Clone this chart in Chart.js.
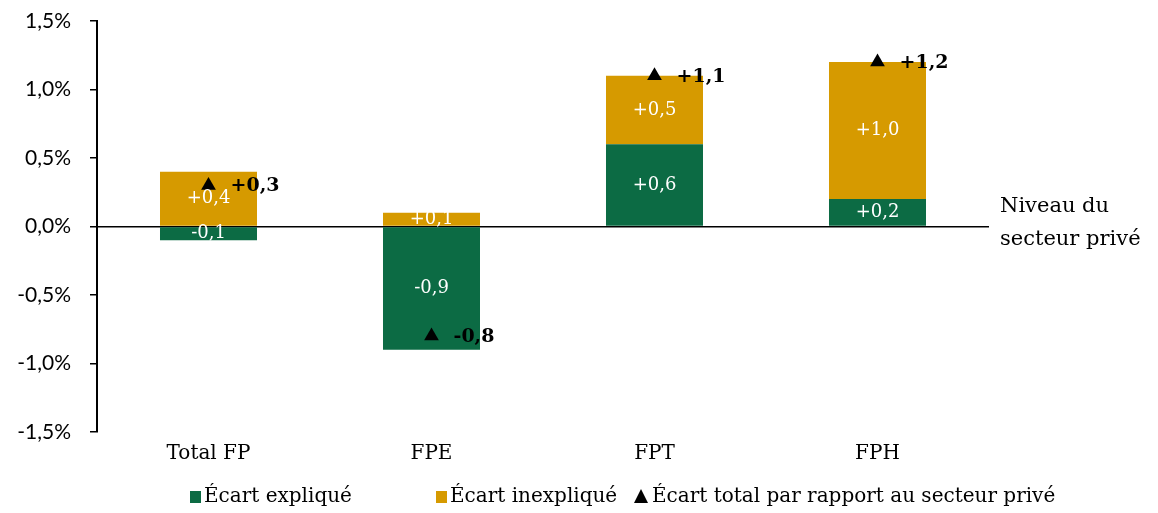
<!DOCTYPE html>
<html>
<head>
<meta charset="utf-8">
<script src="https://cdn.jsdelivr.net/npm/chart.js@4"></script>
<style>
  html, body { margin: 0; padding: 0; background: #fff; }
  #wrap { width: 1158px; height: 513px; }
</style>
</head>
<body>
<div id="wrap"><canvas id="graphique" width="1158" height="513"></canvas></div>
<script>
// Données (en points de %)
var categories = ['Total FP', 'FPE', 'FPT', 'FPH'];
var ecartExplique = [-0.1, -0.9, 0.6, 0.2];
var ecartInexplique = [0.4, 0.1, 0.5, 1.0];
var ecartTotal = [0.3, -0.8, 1.1, 1.2];
var yTicks = [-1.5, -1.0, -0.5, 0, 0.5, 1.0, 1.5];
var legende = ['Écart expliqué', 'Écart inexpliqué', 'Écart total par rapport au secteur privé'];

var VERT = '#0c6b44';
var OR = '#d69a00';
var SERIF = '"DejaVu Serif", serif';

function fmt(v) {
    var s = Math.abs(v).toFixed(1).replace('.', ',');
    return (v < 0 ? '-' : '+') + s;
}

// Etiquettes, texte "Niveau du secteur privé" et légende
var etiquettes = {
    id: 'etiquettes',
    afterDatasetsDraw: function(chart) {
        var ctx = chart.ctx;
        var y = chart.scales.y;
        ctx.save();
        ctx.textBaseline = 'middle';
        // valeurs dans les barres
        [0, 1].forEach(function(d) {
            var meta = chart.getDatasetMeta(d);
            meta.data.forEach(function(bar, i) {
                var v = chart.data.datasets[d].data[i];
                var props = bar.getProps(['x', 'y', 'base'], true);
                ctx.fillStyle = '#fff';
                ctx.font = '18px ' + SERIF;
                ctx.textAlign = 'center';
                ctx.fillText(fmt(v), props.x, (props.y + props.base) / 2);
            });
        });
        // valeurs des triangles
        var metaT = chart.getDatasetMeta(2);
        metaT.data.forEach(function(pt, i) {
            ctx.fillStyle = '#000';
            ctx.font = 'bold 19px ' + SERIF;
            ctx.textAlign = 'left';
            ctx.fillText(fmt(ecartTotal[i]), pt.x + 22, pt.y + 1);
        });
        // texte à droite de la ligne zéro
        ctx.fillStyle = '#000';
        ctx.font = '21px ' + SERIF;
        ctx.textAlign = 'left';
        var y0 = y.getPixelForValue(0);
        ctx.fillText('Niveau du', 1000, y0 - 20);
        ctx.fillText('secteur privé', 1000, y0 + 13);

        // légende
        var ly = 497;
        ctx.font = '20px ' + SERIF;
        ctx.fillStyle = VERT;
        ctx.fillRect(190, ly - 6, 11, 12);
        ctx.fillStyle = OR;
        ctx.fillRect(436, ly - 6, 11, 12);
        ctx.fillStyle = '#000';
        ctx.beginPath();
        ctx.moveTo(641, ly - 8);
        ctx.lineTo(648, ly + 6);
        ctx.lineTo(634, ly + 6);
        ctx.closePath();
        ctx.fill();
        ctx.fillText(legende[0], 204, ly);
        ctx.fillText(legende[1], 450, ly);
        ctx.fillText(legende[2], 652, ly);
        ctx.restore();
    }
};

var ctx = document.getElementById('graphique').getContext('2d');
var graphique = new Chart(ctx, {
    type: 'bar',
    data: {
        labels: categories,
        datasets: [
            {
                label: legende[0],
                data: ecartExplique,
                backgroundColor: VERT,
                stack: 'ecart',
                categoryPercentage: 1,
                barPercentage: 0.435,
                order: 2
            },
            {
                label: legende[1],
                data: ecartInexplique,
                backgroundColor: OR,
                stack: 'ecart',
                categoryPercentage: 1,
                barPercentage: 0.435,
                order: 2
            },
            {
                type: 'line',
                label: legende[2],
                data: ecartTotal,
                stack: 'total',
                showLine: false,
                pointStyle: 'triangle',
                pointRadius: 8.5,
                pointHoverRadius: 8.5,
                backgroundColor: '#000',
                borderColor: '#000',
                borderWidth: 0,
                order: 1
            }
        ]
    },
    options: {
        responsive: false,
        animation: false,
        events: [],
        layout: { padding: { top: 21, right: 169, bottom: 51, left: 0 } },
        plugins: {
            legend: { display: false },
            tooltip: { enabled: false }
        },
        scales: {
            x: {
                stacked: true,
                grid: { display: false, drawTicks: false },
                border: { display: false },
                ticks: {
                    color: '#000',
                    padding: 10,
                    font: { family: SERIF, size: 20 }
                },
                afterFit: function(s) { s.height = 30; }
            },
            y: {
                stacked: true,
                min: -1.5,
                max: 1.5,
                afterBuildTicks: function(s) {
                    s.ticks = yTicks.map(function(v) { return { value: v }; });
                },
                afterFit: function(s) {
                    s.width = 97;
                    s.paddingTop = 0;
                    s.paddingBottom = 0;
                },
                border: { display: true, color: '#000', width: 2 },
                grid: {
                    color: function(c) { return c.tick && c.tick.value === 0 ? '#000' : 'rgba(0,0,0,0)'; },
                    lineWidth: 1.5,
                    tickColor: '#000',
                    tickLength: 7,
                    tickWidth: 1.5
                },
                ticks: {
                    color: '#000',
                    padding: 19,
                    font: { family: 'Lato, sans-serif', size: 21 },
                    callback: function(v) { return v.toFixed(1).replace('.', ',') + '%'; }
                }
            }
        }
    },
    plugins: [etiquettes]
});
</script>
</body>
</html>
